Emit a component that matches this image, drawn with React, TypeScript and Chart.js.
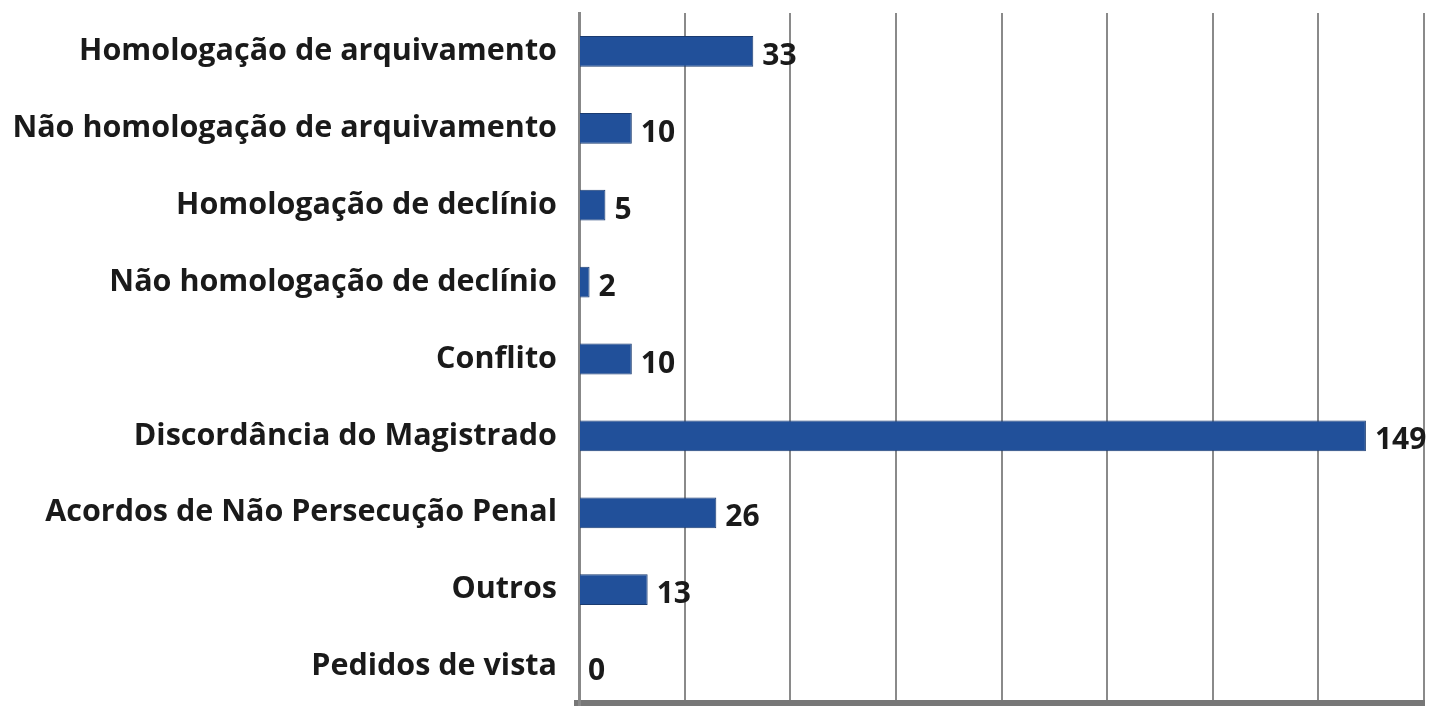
import React, { useEffect, useRef } from "react";
import { Chart, registerables } from "chart.js";

Chart.register(...registerables);

const categories: string[] = [
  "Homologação de arquivamento",
  "Não homologação de arquivamento",
  "Homologação de declínio",
  "Não homologação de declínio",
  "Conflito",
  "Discordância do Magistrado",
  "Acordos de Não Persecução Penal",
  "Outros",
  "Pedidos de vista",
];
const values: number[] = [33, 10, 5, 2, 10, 149, 26, 13, 0];
const axisMax = 160;
const axisStep = 20;

const FONT = "'Open Sans', 'DejaVu Sans', sans-serif";

const valueLabels = {
  id: "valueLabels",
  afterDatasetsDraw(chart: any) {
    const { ctx } = chart;
    const meta = chart.getDatasetMeta(0);
    ctx.save();
    ctx.font = `bold 30px ${FONT}`;
    ctx.fillStyle = "#1a1a1a";
    ctx.textAlign = "left";
    ctx.textBaseline = "middle";
    meta.data.forEach((bar: any, i: number) => {
      const v = chart.data.datasets[0].data[i];
      ctx.fillText(String(v), bar.x + 9, bar.y + 5);
    });
    ctx.restore();
  },
};

export default function App() {
  const ref = useRef<HTMLCanvasElement | null>(null);
  useEffect(() => {
    if (!ref.current) return;
    const chart = new Chart(ref.current, {
      type: "bar",
      data: {
        labels: categories,
        datasets: [
          {
            data: values,
            backgroundColor: (c: any) => {
              const { ctx, chartArea } = c.chart;
              if (!chartArea) return "#21509a";
              const el = c.element;
              if (!el || el.y === undefined) return "#21509a";
              const h = el.height || 30;
              const g = ctx.createLinearGradient(0, el.y - h / 2, 0, el.y + h / 2);
              g.addColorStop(0, "#1b4585");
              g.addColorStop(0.25, "#2454a0");
              g.addColorStop(0.75, "#2252a0");
              g.addColorStop(1, "#183d78");
              return g;
            },
            borderColor: "#1a3b70",
            borderWidth: 1,
            barPercentage: 0.4,
            categoryPercentage: 1,
          },
        ],
      },
      options: {
        indexAxis: "y",
        animation: false,
        responsive: false,
        layout: { padding: { top: 13, bottom: 0, right: 10, left: 0 } },
        plugins: { legend: { display: false }, tooltip: { enabled: false } },
        scales: {
          x: {
            min: 0,
            max: axisMax,
            ticks: { display: false, stepSize: axisStep },
            grid: { color: "#8a8a8a", lineWidth: 2, drawTicks: false },
            border: { display: true, color: "#777777", width: 10 },
            afterFit: (s: any) => {
              s.height = 1;
              s.paddingLeft = 0;
              s.paddingRight = 0;
            },
          },
          y: {
            ticks: {
              color: "#1a1a1a",
              font: { family: FONT, size: 30.5, weight: "bold" },
              padding: 22,
            },
            grid: { display: false, drawTicks: false },
            border: { display: true, color: "#888888", width: 3 },
            afterFit: (s: any) => {
              s.width = 579;
              s.paddingTop = 0;
              s.paddingBottom = 0;
            },
          },
        },
      },
      plugins: [valueLabels],
    } as any);
    return () => chart.destroy();
  }, []);
  return (
    <div style={{ position: "fixed", left: 0, top: 0, width: 1434, height: 706, background: "#fff" }}>
      <canvas ref={ref} width={1434} height={706} style={{ display: "block" }} />
    </div>
  );
}
